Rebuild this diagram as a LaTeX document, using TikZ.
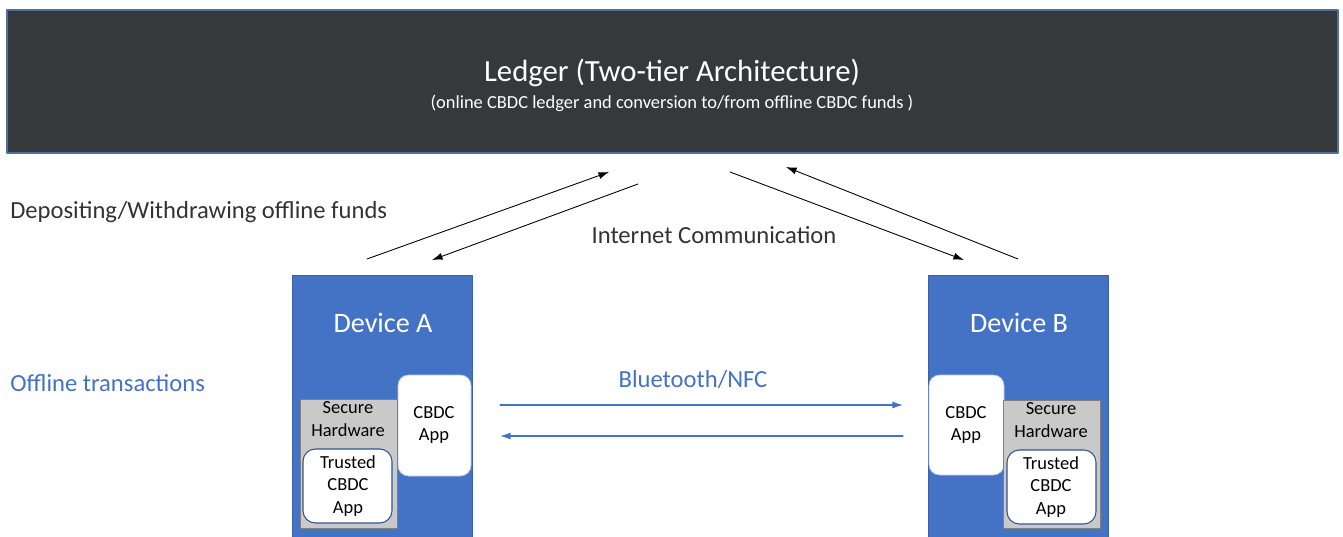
\documentclass[tikz,border=0pt]{standalone}
\usepackage{fontspec}
\setmainfont{Carlito}
\usetikzlibrary{arrows.meta}
\definecolor{ledgerbg}{HTML}{36393C}
\definecolor{ledgeredge}{HTML}{4F6F9F}
\definecolor{devblue}{HTML}{4472C4}
\definecolor{hwgray}{HTML}{C9C9C9}
\definecolor{txtgray}{HTML}{333333}
\definecolor{trustedge}{HTML}{2F5597}
\tikzset{
  device/.style={fill=devblue, draw=devblue!85!black, line width=0.4pt},
  appbox/.style={fill=white, draw=devblue!40, line width=0.4pt, rounded corners=6pt},
  trustbox/.style={fill=white, draw=trustedge, line width=0.6pt, rounded corners=7pt},
  hwbox/.style={fill=hwgray, draw=gray, line width=0.4pt},
  small/.style={inner sep=0pt, align=center, font=\fontsize{10.5}{13}\selectfont},
  mid/.style={inner sep=0pt, font=\fontsize{14}{16}\selectfont},
  big/.style={inner sep=0pt, text=white, font=\fontsize{16}{19}\selectfont},
  net/.style={line width=0.5pt, -{Latex[length=6pt,width=4pt]}},
  radio/.style={line width=0.7pt, draw=devblue, -{Latex[length=6pt,width=4pt]}}
}
\begin{document}
\begin{tikzpicture}[x=0.02cm, y=-0.02cm, line join=round, line cap=round]
  \useasboundingbox (0,0) rectangle (1343,537);
  \clip (0,0) rectangle (1343,537);
  % ledger on top
  \draw[fill=ledgerbg, draw=ledgeredge, line width=0.6pt] (7,10) rectangle (1338,153);
  \node[big, font=\fontsize{17.5}{20}\selectfont] (title) at (672,73) {Ledger (Two-tier Architecture)};
  \node[small, text=white] (subtitle) at (672,103) {(online CBDC ledger and conversion to/from offline CBDC funds )};
  % side labels
  \node[mid, text=txtgray, anchor=west] (deposit) at (10,212) {Depositing/Withdrawing offline funds};
  \node[mid, text=txtgray] (internet) at (714,235) {Internet Communication};
  \node[mid, text=devblue, anchor=west] (offline) at (10,383) {Offline transactions};
  % device A
  \draw[device] (292,275) rectangle (472,545);
  \node[big] (devA) at (383,323) {Device A};
  \draw[appbox] (398,375) rectangle (471,476);
  \node[small] (appA) at (434,425) {CBDC\\App};
  \draw[hwbox] (300,399) rectangle (397,528);
  \node[small] (hwA) at (348,419) {Secure\\Hardware};
  \draw[trustbox] (303,449) rectangle (392,523);
  \node[small] (trustA) at (348,486) {Trusted\\CBDC\\App};
  % device B
  \draw[device] (928,275) rectangle (1108,545);
  \node[big] (devB) at (1019,323) {Device B};
  \draw[appbox] (929,375) rectangle (1004,475);
  \node[small] (appB) at (966,425) {CBDC\\App};
  \draw[hwbox] (1003,400) rectangle (1100,528);
  \node[small] (hwB) at (1051,420) {Secure\\Hardware};
  \draw[trustbox] (1007,450) rectangle (1096,524);
  \node[small] (trustB) at (1051,487) {Trusted\\CBDC\\App};
  % internet links
  \coordinate (aUp0) at (367,259);   \coordinate (aUp1) at (609,172);
  \coordinate (aDn0) at (638,184);   \coordinate (aDn1) at (432,260);
  \coordinate (bDn0) at (730,172);   \coordinate (bDn1) at (964,260);
  \coordinate (bUp0) at (1018,259);  \coordinate (bUp1) at (786,167);
  \draw[net] (aUp0) -- (aUp1);
  \draw[net] (aDn0) -- (aDn1);
  \draw[net] (bDn0) -- (bDn1);
  \draw[net] (bUp0) -- (bUp1);
  % bluetooth links
  \node[mid, text=devblue] (bt) at (693,379) {Bluetooth/NFC};
  \coordinate (btA1) at (500,405);  \coordinate (btB1) at (903,405);
  \coordinate (btA2) at (500,436);  \coordinate (btB2) at (903,436);
  \draw[radio] (btA1) -- (btB1);
  \draw[radio] (btB2) -- (btA2);
\end{tikzpicture}
\end{document}
